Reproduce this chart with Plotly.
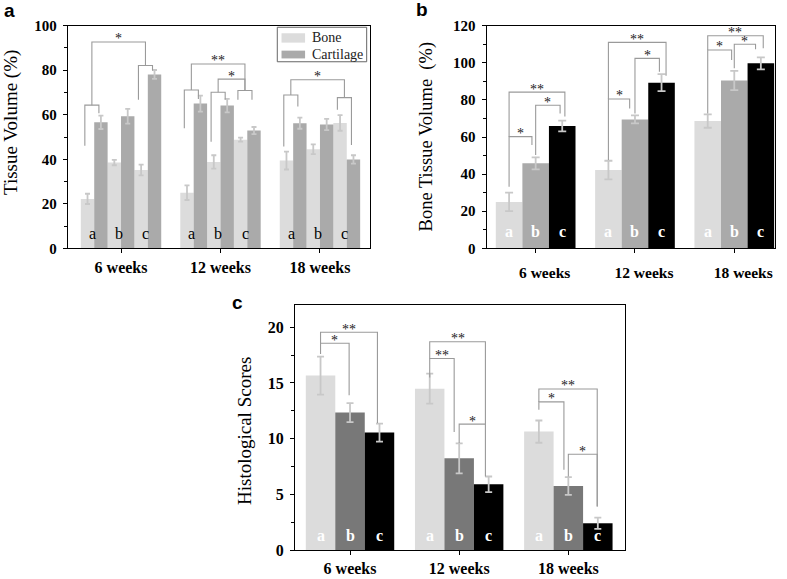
import plotly.graph_objects as go

# ---------------- DATA ----------------
weeks = ["6 weeks", "12 weeks", "18 weeks"]
groups = ["a", "b", "c"]

# Panel a: tissue volume (%), per week -> groups a, b, c
bone_mean = [[22.2, 38.5, 35.2], [25.0, 38.8, 48.8], [39.4, 44.5, 56.3]]
bone_err = [[2.3, 1.2, 2.4], [3.3, 3.0, 0.9], [4.0, 2.2, 3.5]]
cart_mean = [[56.6, 59.3, 78.1], [65.0, 64.1, 52.9], [56.2, 55.6, 39.9]]
cart_err = [[3.0, 3.3, 2.0], [3.6, 3.0, 1.6], [2.5, 2.5, 1.9]]

# Panel b: bone tissue volume (%), per group -> weeks
btv_mean = {"a": [25.0, 42.2, 68.6], "b": [45.8, 69.5, 90.5], "c": [65.9, 89.3, 99.7]}
btv_err = {"a": [5.0, 5.0, 3.6], "b": [3.2, 2.2, 5.2], "c": [2.9, 4.6, 3.2]}

# Panel c: histological scores, per group -> weeks
hist_mean = {"a": [15.66, 14.49, 10.63], "b": [12.34, 8.23, 5.75], "c": [10.54, 5.9, 2.4]}
hist_err = {"a": [1.7, 1.35, 1.0], "b": [0.85, 1.35, 0.8], "c": [0.8, 0.7, 0.5]}

# Significance brackets
# panel a: pair brackets (week, group, left_from, right_to, top)
a_pairs = [(0, 0, 46.1, 60.7, 64.3), (0, 2, 66.7, 79.9, 82.1),
           (1, 0, 53.9, 67.1, 71.1), (1, 1, 47.9, 66.7, 70.1), (1, 2, 66.7, 66.7, 70.9),
           (2, 0, 45.7, 63.7, 68.9), (2, 2, 62.2, 46.4, 67.7)]
# panel a: comparisons between pair brackets (week, group_left, group_right, top, label)
a_comps = [(0, 0, 2, 92.7, "*"), (1, 0, 2, 82.8, "**"), (1, 1, 2, 76.0, "*"), (2, 0, 2, 75.7, "*")]
# panels b, c: (week, left_bar, right_bar, left_from, right_to, top, label, right_nudge)
b_brackets = [(0, 0, 1, 33.2, 55.7, 60.2, "*", -0.14), (0, 1, 2, 50.3, 72.7, 77.1, "*", -0.08),
              (0, 0, 2, 60.2, 71.0, 84.2, "**", 0.1),
              (1, 0, 1, 47.6, 75.4, 80.5, "*", -0.2), (1, 1, 2, 72.7, 95.2, 102.4, "*", -0.08),
              (1, 0, 2, 80.5, 93.0, 111.0, "**", 0.17),
              (2, 0, 1, 72.7, 101.5, 106.9, "*", -0.1), (2, 1, 2, 97.0, 107.3, 110.0, "*", -0.2),
              (2, 0, 2, 106.9, 107.8, 114.6, "**", 0.09)]
c_brackets = [(0, 0, 1, 17.6, 13.9, 18.56, "*", -0.03), (0, 0, 2, 18.56, 11.4, 19.55, "**", -0.07),
              (1, 0, 1, 15.5, 10.6, 17.2, "**", -0.17), (1, 0, 2, 17.2, 6.6, 18.7, "**", -0.11),
              (1, 1, 2, 9.6, 11.3, 11.3, "*", -0.11),
              (2, 0, 1, 12.6, 7.2, 13.3, "*", -0.15), (2, 0, 2, 13.3, 3.9, 14.46, "**", -0.02),
              (2, 1, 2, 6.6, 3.9, 8.6, "*", -0.02)]

# ---------------- STYLE ----------------
SERIF = "Liberation Serif"
LIGHT, MID, DARK_MID, BLACK = "#dcdcdc", "#aaaaaa", "#787878", "#000000"
ERR_COL = "#c8c8c8"
BR_COL = "#9a9a9a"
STAR_COL = "#222222"
WA, WB, WC = 0.1347, 0.2675, 0.27

fig = go.Figure()

# ---- Panel a bars ----
xa_sub = [g + (s - 1) * 2 * WA for g in range(3) for s in range(3)]
flat = lambda m: [v for row in m for v in row]
fig.add_trace(go.Bar(x=xa_sub, y=flat(bone_mean), width=WA, offset=-WA, marker_color=LIGHT,
                     marker_line_width=0, name="Bone", showlegend=False,
                     error_y=dict(type="data", array=flat(bone_err), color=ERR_COL, thickness=1.8, width=2.5),
                     xaxis="x", yaxis="y"))
fig.add_trace(go.Bar(x=xa_sub, y=flat(cart_mean), width=WA, offset=0, marker_color=MID,
                     marker_line_width=0, name="Cartilage", showlegend=False,
                     error_y=dict(type="data", array=flat(cart_err), color=ERR_COL, thickness=1.8, width=2.5),
                     xaxis="x", yaxis="y"))

# ---- Panel b bars ----
for i, (grp, col) in enumerate(zip(groups, [LIGHT, MID, BLACK])):
    fig.add_trace(go.Bar(x=[g + (i - 1) * WB for g in range(3)], y=btv_mean[grp], width=WB,
                         marker_color=col, marker_line_width=0, showlegend=False,
                         error_y=dict(type="data", array=btv_err[grp], color=ERR_COL, thickness=1.8, width=4),
                         xaxis="x2", yaxis="y2"))

# ---- Panel c bars ----
for i, (grp, col) in enumerate(zip(groups, [LIGHT, DARK_MID, BLACK])):
    fig.add_trace(go.Bar(x=[g + (i - 1) * WC for g in range(3)], y=hist_mean[grp], width=WC,
                         marker_color=col, marker_line_width=0, showlegend=False,
                         error_y=dict(type="data", array=hist_err[grp], color=ERR_COL, thickness=1.8, width=3.5),
                         xaxis="x3", yaxis="y3"))

shapes, annos = [], []


def path_shape(xr, yr, pts):
    d = "M " + " L ".join(f"{x},{y}" for x, y in pts)
    shapes.append(dict(type="path", path=d, xref=xr, yref=yr, line=dict(color=BR_COL, width=1.1)))


def star(xr, yr, x, y, label, size=14):
    annos.append(dict(x=x, y=y, xref=xr, yref=yr, text=label, showarrow=False, yanchor="middle",
                      yshift=3, font=dict(family=SERIF, size=size, color=STAR_COL)))


# Panel a brackets
pair_mid = {}
for (wk, s, yl, yr_, top) in a_pairs:
    c = wk + (s - 1) * 2 * WA
    xl, xr = c - WA / 2 - 0.2 * WA, c + WA / 2 - 0.15 * WA
    path_shape("x", "y", [(xl, yl), (xl, top), (xr, top), (xr, yr_)])
    pair_mid[(wk, s)] = ((xl + xr) / 2, top)
for (wk, sl, sr, top, lab) in a_comps:
    (x1, y1), (x2, y2) = pair_mid[(wk, sl)], pair_mid[(wk, sr)]
    path_shape("x", "y", [(x1, y1), (x1, top), (x2, top), (x2, y2)])
    star("x", "y", (x1 + x2) / 2, top, lab)


def bc_brackets(lst, w, xr, yr):
    for (wk, bl, br, yl, yrt, top, lab, nud) in lst:
        x1 = wk + (bl - 1) * w
        x2 = wk + (br - 1) * w + nud * w
        path_shape(xr, yr, [(x1, yl), (x1, top), (x2, top), (x2, yrt)])
        star(xr, yr, (x1 + x2) / 2, top, lab)


bc_brackets(b_brackets, WB, "x2", "y2")
bc_brackets(c_brackets, WC, "x3", "y3")

# Letters inside bars
for g in range(3):
    for s, lab in enumerate(groups):
        annos.append(dict(x=g + (s - 1) * 2 * WA - 0.15 * WA, y=6.7, xref="x", yref="y", text=lab,
                          showarrow=False, yanchor="middle", font=dict(family=SERIF, size=16, color="black")))
        annos.append(dict(x=g + (s - 1) * WB, y=9.0, xref="x2", yref="y2", text=lab, showarrow=False,
                          yanchor="middle", font=dict(family=SERIF, size=16, color="white", weight="bold")))
        annos.append(dict(x=g + (s - 1) * WC, y=1.3, xref="x3", yref="y3", text=lab, showarrow=False,
                          yanchor="middle", font=dict(family=SERIF, size=16, color="white", weight="bold")))

# Custom legend (panel a)
shapes.append(dict(type="rect", xref="x domain", yref="y domain", x0=0.693, x1=0.989, y0=0.838, y1=0.993,
                   line=dict(color="#666666", width=1), fillcolor="white"))
shapes.append(dict(type="rect", xref="x domain", yref="y domain", x0=0.707, x1=0.785, y0=0.924, y1=0.966,
                   line=dict(width=0), fillcolor=LIGHT))
shapes.append(dict(type="rect", xref="x domain", yref="y domain", x0=0.707, x1=0.785, y0=0.853, y1=0.888,
                   line=dict(width=0), fillcolor=MID))
for txt, yy in [("Bone", 0.948), ("Cartilage", 0.872)]:
    annos.append(dict(x=0.8, y=yy, xref="x domain", yref="y domain", text=txt, showarrow=False,
                      xanchor="left", yanchor="middle", font=dict(family=SERIF, size=14, color="#222222")))

# Y titles
for txt, xx, yy, sz in [("Tissue Volume (%)", 11.5, 122.5, 19), ("Bone Tissue Volume  (%)", 426.7, 136.7, 18.5),
                        ("Histological Scores", 244, 431, 19)]:
    annos.append(dict(x=xx / 787, y=1 - yy / 579, xref="paper", yref="paper", text=txt, textangle=-90,
                      showarrow=False, xanchor="center", yanchor="middle",
                      font=dict(family=SERIF, size=sz, color="black")))

# Panel labels
for txt, xx, yy in [("a", 9.5, 11), ("b", 422, 9.5), ("c", 237.5, 302.5)]:
    annos.append(dict(x=xx / 787, y=1 - yy / 579, xref="paper", yref="paper", text=txt, showarrow=False,
                      xanchor="center", yanchor="middle",
                      font=dict(family="Liberation Sans", size=19, color="black", weight="bold")))


def axstyle(**kw):
    d = dict(showline=True, linecolor="black", linewidth=1.3, mirror=True, ticks="outside", ticklen=4,
             tickwidth=1.2, tickcolor="black", showgrid=False, zeroline=False, automargin=False,
             tickfont=dict(family=SERIF, size=15, color="black", weight="bold"))
    d.update(kw)
    return d


xfont = dict(family=SERIF, size=16, color="black", weight="bold")
fig.update_layout(
    template="none",
    width=787, height=579, margin=dict(l=0, r=0, t=0, b=0, autoexpand=False),
    paper_bgcolor="white", plot_bgcolor="white", barmode="overlay", showlegend=False,
    xaxis=axstyle(domain=[68 / 787, 370 / 787], range=[-0.533, 2.503], tickvals=[0, 1, 2], ticktext=weeks,
                  tickfont=xfont, anchor="y"),
    yaxis=axstyle(domain=[1 - 248.3 / 579, 1 - 25.7 / 579], range=[0, 100], dtick=20, anchor="x",
                  ticklabelstandoff=3,
                  minor=dict(ticks="outside", ticklen=3, tickwidth=1, tickcolor="black", dtick=10)),
    xaxis2=axstyle(domain=[486.7 / 787, 775 / 787], range=[-0.493, 2.41], tickvals=[0, 1, 2], ticktext=weeks,
                   tickfont=dict(family=SERIF, size=15.5, color="black", weight="bold"), anchor="y2",
                   ticklabelshift=9, ticklabelstandoff=6),
    yaxis2=axstyle(domain=[1 - 248.3 / 579, 1 - 25.7 / 579], range=[0, 120], dtick=20, anchor="x2",
                   ticklabelstandoff=3,
                   minor=dict(ticks="outside", ticklen=3, tickwidth=1, tickcolor="black", dtick=10)),
    xaxis3=axstyle(domain=[295 / 787, 625 / 787], range=[-0.504, 2.519], tickvals=[0, 1, 2], ticktext=weeks,
                   tickfont=dict(family=SERIF, size=16, color="black", weight="bold"), anchor="y3",
                   ticklabelstandoff=0),
    yaxis3=axstyle(domain=[1 - 550 / 579, 1 - 305 / 579], range=[0, 22], tickvals=[0, 5, 10, 15, 20], anchor="x3",
                   tickfont=dict(family=SERIF, size=16, color="black", weight="bold"), ticklabelstandoff=3,
                   minor=dict(ticks="outside", ticklen=3, tickwidth=1, tickcolor="black",
                              tickvals=[2.5, 7.5, 12.5, 17.5])),
    shapes=shapes, annotations=annos,
)

fig.write_html("out.html", config={"displayModeBar": False},
               post_script="document.body.style.margin='0';document.body.style.overflow='hidden';")
